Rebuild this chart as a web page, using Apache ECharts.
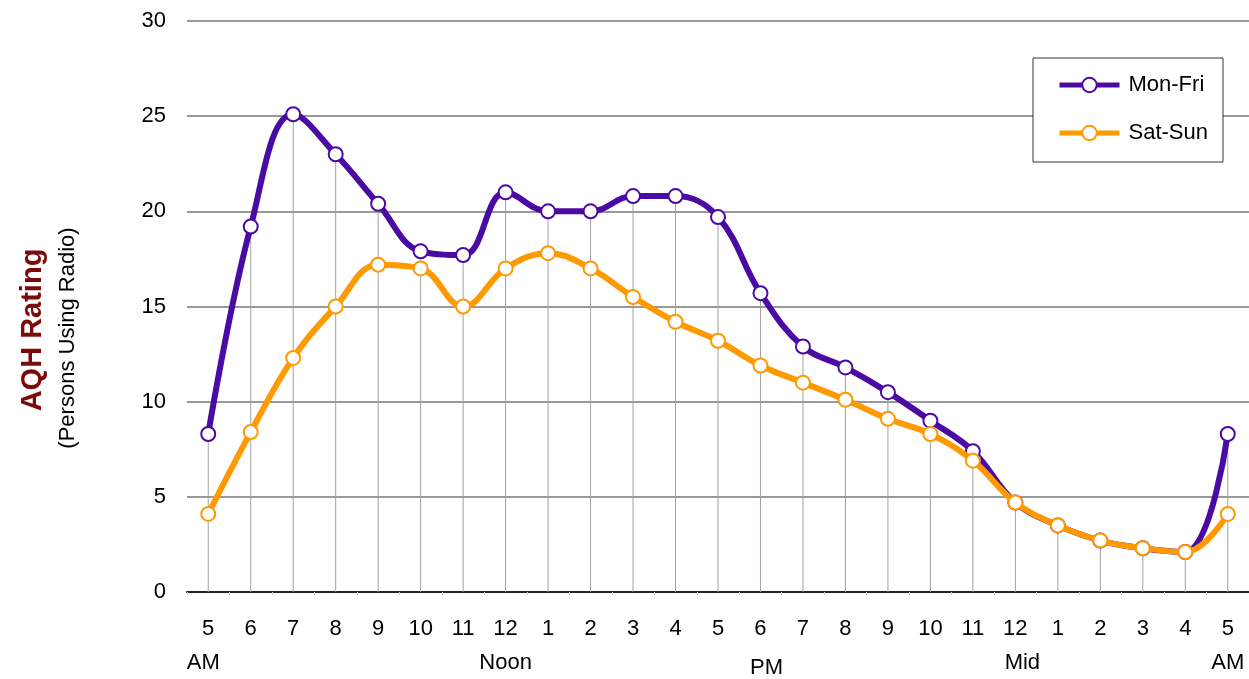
<!DOCTYPE html>
<html>
<head>
<meta charset="utf-8">
<script src="https://cdn.jsdelivr.net/npm/echarts@6/dist/echarts.min.js"></script>
<style>html,body{margin:0;padding:0;background:#fff;}#c{width:1249px;height:679px;}</style>
</head>
<body>
<div id="c"></div>
<script>
var hours = ['5','6','7','8','9','10','11','12','1','2','3','4','5','6','7','8','9','10','11','12','1','2','3','4','5'];
var periods = ['AM','','','','','','','Noon','','','','','','PM','','','','','','Mid','','','','','AM'];
var monFri = [8.3,19.2,25.1,23.0,20.4,17.9,17.7,21.0,20.0,20.0,20.8,20.8,19.7,15.7,12.9,11.8,10.5,9.0,7.4,4.7,3.5,2.7,2.3,2.1,8.3];
var satSun = [4.1,8.4,12.3,15.0,17.2,17.0,15.0,17.0,17.8,17.0,15.5,14.2,13.2,11.9,11.0,10.1,9.1,8.3,6.9,4.7,3.5,2.7,2.3,2.1,4.1];
var yTicks = {min: 0, max: 30, interval: 5};
var yTitle = 'AQH Rating';
var ySubtitle = '(Persons Using Radio)';

var FONT = "'Liberation Sans Narrow','Arial Narrow','Liberation Sans',Arial,sans-serif";
var dropTops = monFri.map(function (v, i) { return Math.max(v, satSun[i]); });
var cats = hours.map(function (h, i) { return i; });

var chart = echarts.init(document.getElementById('c'));
chart.setOption({
  backgroundColor: '#fff',
  animation: false,
  grid: {left: 187, top: 21, width: 1067, height: 571},
  graphic: [
    {type: 'text', x: 33, y: 330, rotation: Math.PI / 2,
     style: {text: yTitle, fontFamily: FONT, fontSize: 29, fontWeight: 'bold', fill: '#7B0A0A', align: 'center', verticalAlign: 'middle'}},
    {type: 'text', x: 68, y: 338, rotation: Math.PI / 2,
     style: {text: ySubtitle, fontFamily: FONT, fontSize: 22, fill: '#000', align: 'center', verticalAlign: 'middle'}}
  ],
  legend: {
    data: ['Mon-Fri', 'Sat-Sun'],
    orient: 'vertical',
    left: 1033, top: 58,
    padding: [16, 15, 18, 24],
    itemGap: 26,
    itemWidth: 60, itemHeight: 18,
    lineStyle: {width: 5},
    backgroundColor: '#fff',
    borderColor: '#333', borderWidth: 1,
    textStyle: {fontFamily: FONT, fontSize: 22, color: '#000', padding: [0, 0, 0, 4]}
  },
  xAxis: {
    type: 'category',
    data: cats,
    axisLine: {lineStyle: {color: '#222', width: 2}},
    axisTick: {show: true, length: 3, lineStyle: {color: '#ccc'}},
    axisLabel: {
      interval: 0, margin: 20,
      formatter: function (v, i) {
        var p = periods[i];
        var style = 's';
        if (p === 'PM') style = 'p';
        else if (p === 'Mid') style = 'm';
        else if (i === 0) style = 'a';
        return '{n|' + hours[i] + '}\n{' + style + '|' + (p || ' ') + '}';
      },
      rich: {
        n: {fontFamily: FONT, fontSize: 22, color: '#000', lineHeight: 34},
        s: {fontFamily: FONT, fontSize: 22, color: '#000', lineHeight: 34},
        a: {fontFamily: FONT, fontSize: 22, color: '#000', lineHeight: 34, padding: [0, 10, 0, 0]},
        p: {fontFamily: FONT, fontSize: 22, color: '#000', lineHeight: 34, padding: [10, 0, 0, 12]},
        m: {fontFamily: FONT, fontSize: 22, color: '#000', lineHeight: 34, padding: [0, 0, 0, 14]}
      }
    },
    splitLine: {show: false}
  },
  yAxis: {
    type: 'value',
    min: yTicks.min, max: yTicks.max, interval: yTicks.interval,
    axisLine: {show: false},
    axisTick: {show: false},
    axisLabel: {fontFamily: FONT, fontSize: 22, color: '#000', margin: 21},
    splitLine: {lineStyle: {color: '#999', width: 2}}
  },
  series: [
    {
      name: 'drop', type: 'bar', data: dropTops, barWidth: 1, silent: true,
      itemStyle: {color: '#a0a0a0'}, z: 1
    },
    {
      name: 'Mon-Fri', type: 'line', data: monFri, smooth: 0.4,
      symbol: 'circle', symbolSize: 14,
      lineStyle: {color: '#4B0AA3', width: 6},
      itemStyle: {color: '#fff', borderColor: '#4B0AA3', borderWidth: 2},
      z: 3
    },
    {
      name: 'Sat-Sun', type: 'line', data: satSun, smooth: 0.4,
      symbol: 'circle', symbolSize: 14,
      lineStyle: {color: '#FF9900', width: 6},
      itemStyle: {color: '#fff', borderColor: '#FF9900', borderWidth: 2},
      z: 4
    }
  ]
});
</script>
</body>
</html>
